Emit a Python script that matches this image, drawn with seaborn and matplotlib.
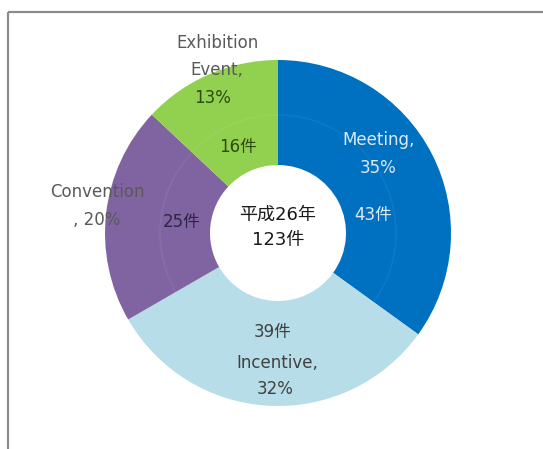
import matplotlib
matplotlib.use("Agg")
import matplotlib.pyplot as plt
from matplotlib.patches import Circle
import seaborn as sns

# Visit counts by category, fiscal year Heisei 26
categories = ["Meeting", "Incentive", "Convention", "Exhibition Event"]
counts = [43, 39, 25, 16]
percent_labels = ["35%", "32%", "20%", "13%"]
center_title = "平成26年"
center_total = "123件"
colors = ["#0070C0", "#B7DDE8", "#8064A2", "#92D050"]

sns.set_theme(style="white")
plt.rcParams["font.family"] = ["DejaVu Sans", "Noto Sans CJK JP"]

W, H = 543, 449
fig = plt.figure(figsize=(W / 100, H / 100), dpi=100)
ax = fig.add_axes([0, 0, 1, 1])

cx, cy = 278, H - 233
r_out, r_mid, r_in = 173, 118, 68

# outer ring and inner ring share the same shares/colours
ax.pie(counts, colors=colors, startangle=90, counterclock=False,
       center=(cx, cy), radius=r_out, frame=True,
       wedgeprops=dict(width=r_out - r_mid + 1, linewidth=0))
ax.pie(counts, colors=colors, startangle=90, counterclock=False,
       center=(cx, cy), radius=r_mid, frame=True,
       wedgeprops=dict(width=r_mid - r_in, linewidth=0))
ax.add_patch(Circle((cx, cy), r_mid, fill=False, edgecolor=(1, 1, 1, 0.06), lw=1.2))
ax.set_xlim(0, W)
ax.set_ylim(0, H)
ax.set_aspect("equal")
ax.axis("off")

fs = 12
dark = "#404040"
gray = "#595959"
light = "#DCE9F5"


def label(x, y, s, color, size=fs):
    ax.text(x, H - y, s, ha="center", va="center", fontsize=size, color=color)


# count labels in the inner ring
count_pos = [(373, 215), (273, 332), (182, 222), (238, 147)]
count_cols = [light, dark, "#2E2545", "#2F4A12"]
for n, (x, y), c in zip(counts, count_pos, count_cols):
    label(x, y, f"{n}件", c)

# category labels in the outer ring
label(379, 140, f"{categories[0]},", light)
label(378, 168, percent_labels[0], light)
label(277, 363, f"{categories[1]},", dark)
label(275, 389, percent_labels[1], dark)
label(97, 192, categories[2], gray)
label(97, 220, f", {percent_labels[2]}", gray)
exh_first, exh_second = categories[3].split(" ")
label(217, 43, exh_first, gray)
label(217, 70, f"{exh_second},", gray)
label(213, 98, percent_labels[3], "#2F4A12")

# centre caption
label(cx, 215, center_title, "#1A1A1A", 13)
label(cx, 240, center_total, "#1A1A1A", 13)

# thin frame along the top and left edges
ax.plot([7.5, W], [H - 11.5, H - 11.5], color="#8C8C8C", lw=1.6, solid_capstyle="butt")
ax.plot([7.5, 7.5], [0, H - 11.5], color="#8C8C8C", lw=1.6, solid_capstyle="butt")

fig.savefig("out.png", dpi=100)
